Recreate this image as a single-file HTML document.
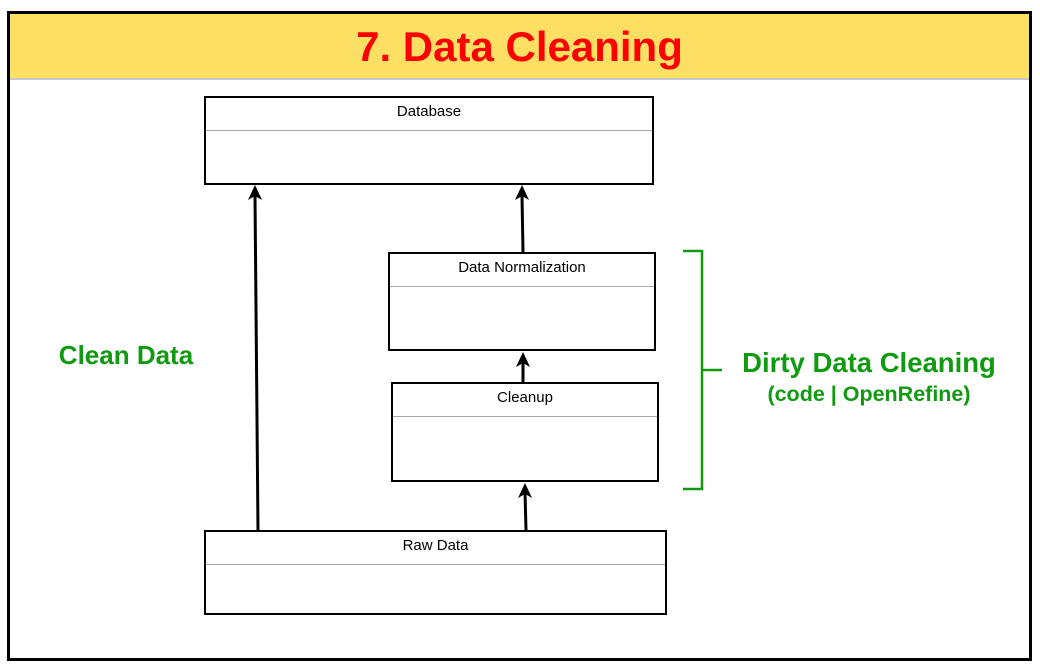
<!DOCTYPE html>
<html><head><style>
body{margin:0;width:1040px;height:666px;background:#fff;position:relative;overflow:hidden;font-family:"Liberation Sans",sans-serif}
.a{position:absolute}
.box{position:absolute;border:2px solid #000;box-sizing:border-box;background:#fff}
.box .t{height:32px;border-bottom:1px solid #aaa;text-align:center;font-size:15px;line-height:28px}
.g{color:#109a10;font-weight:bold;text-align:center}
</style></head><body>
<div class="a" style="left:7px;top:11px;width:1025px;height:650px;border:3px solid #000;box-sizing:border-box"></div>
<div class="a" style="left:10px;top:14px;width:1019px;height:64px;background:#fde063;border-bottom:2px solid #c8c8c8"></div>
<div class="a" style="left:10px;top:21px;width:1019px;text-align:center;color:#f00;font-weight:bold;font-size:42px;line-height:52px">7. Data Cleaning</div>
<div class="box" style="left:204px;top:96px;width:450px;height:89px"><div class="t">Database</div></div>
<div class="box" style="left:388px;top:252px;width:268px;height:99px"><div class="t">Data Normalization</div></div>
<div class="box" style="left:391px;top:382px;width:268px;height:100px"><div class="t">Cleanup</div></div>
<div class="box" style="left:204px;top:530px;width:463px;height:85px"><div class="t">Raw Data</div></div>
<svg class="a" style="left:0;top:0" width="1040" height="666">
<g stroke="#000" stroke-width="3" fill="none">
<line x1="258" y1="531" x2="255" y2="196" />
<line x1="523" y1="252" x2="522" y2="196"/>
<line x1="523" y1="382" x2="523" y2="362"/>
<line x1="526" y1="530" x2="525" y2="492"/>
</g>
<g fill="#000">
<path d="M248,200 L255,185 L262,200 L255,196Z"/>
<path d="M515,200 L522,185 L529,200 L522,196Z"/>
<path d="M516,367 L523,352 L530,367 L523,363Z"/>
<path d="M518,498 L525,483 L532,498 L525,494Z"/>
</g>
<path d="M683,251 H702 V489 H683 M702,370 H722" stroke="#109a10" stroke-width="2.5" fill="none"/>
</svg>
<div class="a g" style="left:26px;top:339px;width:200px;font-size:26px;line-height:32px">Clean Data</div>
<div class="a g" style="left:700px;top:346px;width:338px;font-size:27.5px;line-height:34px">Dirty Data Cleaning</div>
<div class="a g" style="left:700px;top:381px;width:338px;font-size:21.5px;line-height:26px">(code | OpenRefine)</div>
</body></html>
